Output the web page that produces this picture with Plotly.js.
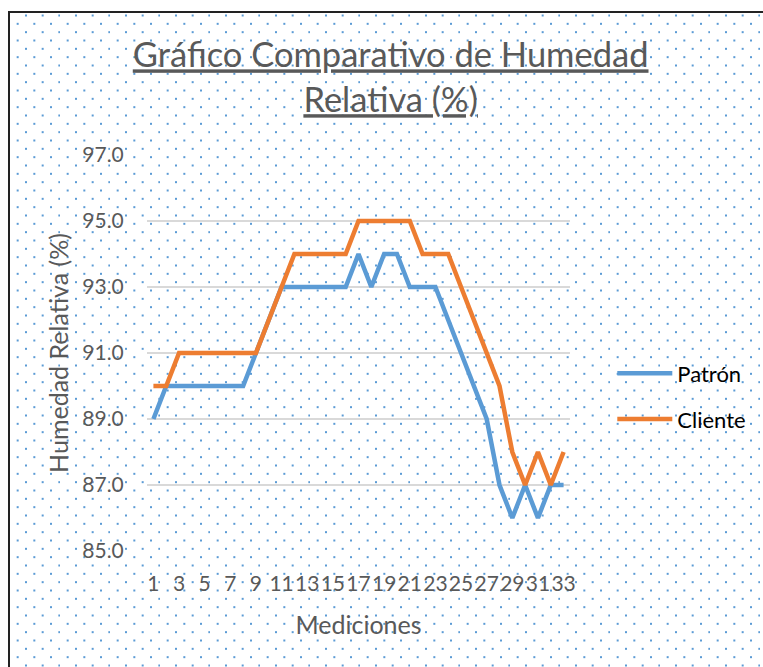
<!DOCTYPE html>
<html>
<head>
<meta charset="utf-8">
<script src="https://cdn.plot.ly/plotly-3.0.1.min.js"></script>
<style>
  html, body { margin:0; padding:0; background:#fff; width:763px; height:667px; overflow:hidden; }
  #frame {
    position:absolute; left:8px; top:11px; width:800px; height:700px;
    border:2px solid #222; box-sizing:border-box;
    background-image:url("data:image/svg+xml;utf8,<svg xmlns='http://www.w3.org/2000/svg' width='50' height='50'><g fill='%235b9bd5'><rect x='15' y='1.5' width='2' height='2'/><rect x='31.67' y='1.5' width='2' height='2'/><rect x='48.33' y='1.5' width='2' height='2'/><rect x='6.67' y='9.83' width='2' height='2'/><rect x='23.33' y='9.83' width='2' height='2'/><rect x='40' y='9.83' width='2' height='2'/><rect x='15' y='18.17' width='2' height='2'/><rect x='31.67' y='18.17' width='2' height='2'/><rect x='48.33' y='18.17' width='2' height='2'/><rect x='6.67' y='26.5' width='2' height='2'/><rect x='23.33' y='26.5' width='2' height='2'/><rect x='40' y='26.5' width='2' height='2'/><rect x='15' y='34.83' width='2' height='2'/><rect x='31.67' y='34.83' width='2' height='2'/><rect x='48.33' y='34.83' width='2' height='2'/><rect x='6.67' y='43.17' width='2' height='2'/><rect x='23.33' y='43.17' width='2' height='2'/><rect x='40' y='43.17' width='2' height='2'/></g></svg>");
    background-size:50px 50px;
  }
  #chart { position:absolute; left:0; top:0; width:763px; height:667px; }
</style>
</head>
<body>
<div id="frame"></div>
<div id="chart"></div>
<script>
const mediciones = Array.from({length: 33}, (_, i) => i + 1);
const patron  = [89,90,90,90,90,90,90,90,91,92,93,93,93,93,93,93,94,93,94,94,93,93,93,92,91,90,89,87,86,87,86,87,87];
const cliente = [90,90,91,91,91,91,91,91,91,92,93,94,94,94,94,94,95,95,95,95,95,94,94,94,93,92,91,90,88,87,88,87,88];
const xTicks = [1,3,5,7,9,11,13,15,17,19,21,23,25,27,29,31,33];
const yTicks = [85,87,89,91,93,95,97];

const traces = [
  {x: mediciones, y: patron, name: 'Patrón', type: 'scatter', mode: 'lines',
   line: {color: '#5b9bd5', width: 4.5}, legendgroup: 'a'},
  {x: mediciones, y: cliente, name: 'Cliente', type: 'scatter', mode: 'lines',
   line: {color: '#ed7d31', width: 4.5}, legendgroup: 'b'}
];

const layout = {
  width: 763, height: 667,
  paper_bgcolor: 'rgba(0,0,0,0)', plot_bgcolor: 'rgba(0,0,0,0)',
  margin: {l: 147, r: 191, t: 155, b: 116},
  font: {family: 'Lato, sans-serif', color: '#595959'},
  title: {
    text: '<u>Gráfico Comparativo de Humedad</u><br><u>Relativa (%)</u>',
    font: {size: 34.5, color: '#595959', family: 'Lato, sans-serif'},
    x: 0.512, xanchor: 'center', y: 0.899, yanchor: 'middle'
  },
  xaxis: {
    range: [0.5, 33.5], tickvals: xTicks, ticktext: xTicks.map(String),
    tickangle: 0,
    showgrid: false, zeroline: false, showline: false,
    ticks: 'outside', ticklen: 14, tickcolor: 'rgba(0,0,0,0)',
    tickfont: {size: 21, color: '#595959'},
    title: {text: 'Mediciones', font: {size: 25, color: '#595959'}, standoff: 22}
  },
  yaxis: {
    range: [85, 97], tickvals: yTicks, tickformat: '.1f',
    showgrid: true, gridcolor: '#d9d9d9', gridwidth: 2,
    zeroline: false, showline: false,
    ticks: 'outside', ticklen: 18, tickcolor: 'rgba(0,0,0,0)',
    tickfont: {size: 21, color: '#595959'},
    title: {text: 'Humedad Relativa (%)', font: {size: 25, color: '#595959'}, standoff: 6}
  },
  showlegend: true,
  legend: {
    x: 1.1, xanchor: 'left', y: 0.39, yanchor: 'middle',
    bgcolor: 'rgba(0,0,0,0)', font: {size: 22, color: '#000'},
    tracegroupgap: 14, itemwidth: 55
  }
};

Plotly.newPlot('chart', traces, layout, {displayModeBar: false, staticPlot: true});
</script>
</body>
</html>
